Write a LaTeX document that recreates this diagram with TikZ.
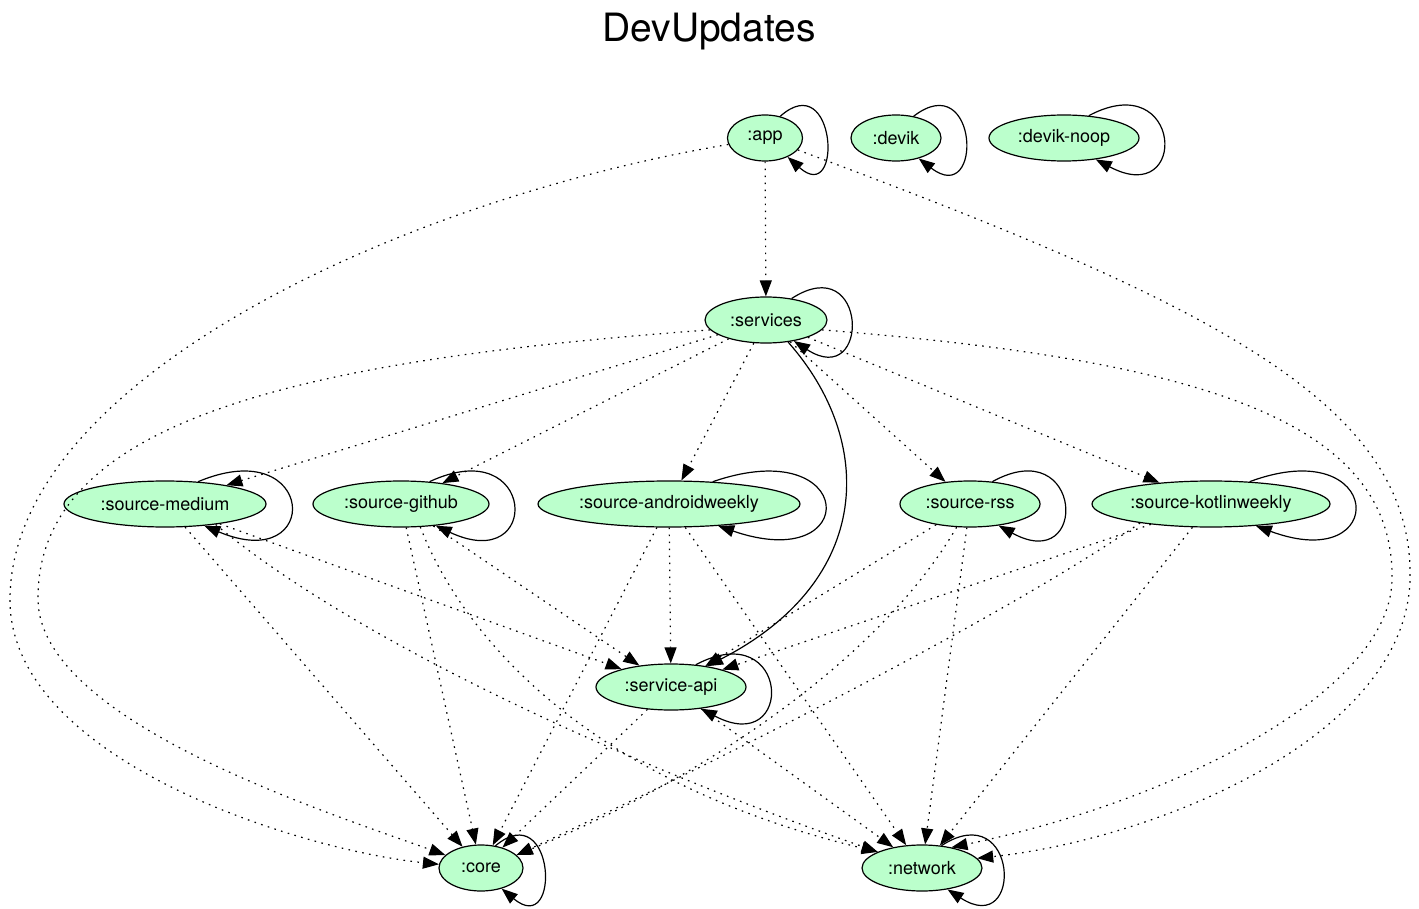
\documentclass[tikz,border=0pt]{standalone}
\usepackage{fontspec}
\setmainfont{TeX Gyre Heros}
\usepackage{tikz}
\usetikzlibrary{shapes.geometric, arrows.meta, calc}
\definecolor{modfill}{RGB}{187,255,204}

\begin{document}
\begin{tikzpicture}[x=1pt, y=-1pt,
        module/.style={ellipse, draw, line width=1.2pt, fill=modfill, minimum height=46pt, inner sep=0pt, font=\fontsize{18}{20}\selectfont},
        dep/.style={line width=1.2pt, dash pattern=on 1.6pt off 5.4pt, -{Triangle[length=16pt,width=12pt]}},
        solidep/.style={line width=1.2pt, -{Triangle[length=16pt,width=12pt]}}]
    \useasboundingbox (0,0) rectangle (1419,909);
    \node[font=\fontsize{39}{44}\selectfont] (title) at (709,32) {DevUpdates};

    \node[module, minimum width=75pt] (app) at (765,138) {:app};
    \node[module, minimum width=90pt] (devik) at (896,138) {:devik};
    \node[module, minimum width=150pt] (devik-noop) at (1064,138) {:devik-noop};
    \node[module, minimum width=122pt] (services) at (766,320) {:services};
    \node[module, minimum width=202pt] (source-medium) at (165,504) {:source-medium};
    \node[module, minimum width=176pt] (source-github) at (401,504) {:source-github};
    \node[module, minimum width=262pt] (source-androidweekly) at (669,504) {:source-androidweekly};
    \node[module, minimum width=140pt] (source-rss) at (970,504) {:source-rss};
    \node[module, minimum width=238pt] (source-kotlinweekly) at (1211,504) {:source-kotlinweekly};
    \node[module, minimum width=150pt] (service-api) at (671,687) {:service-api};
    \node[module, minimum width=84pt] (core) at (481,868) {:core};
    \node[module, minimum width=120pt] (network) at (922,868) {:network};

    \foreach \n/\s/\e/\p in {app/55/40/56,devik/51/42/65,devik-noop/42/34/94,services/40/37/77,source-medium/34/29/119,source-github/38/32/107,source-androidweekly/27/24/145,source-rss/45/37/91,source-kotlinweekly/30/26/135,service-api/42/36/95,core/57/45/60,network/49/40/77}
        \draw[solidep] (\n.\s) .. controls +(\p,-50) and +(\p,50) .. (\n.-\e);

    \draw[dep] (app) -- (services);
    \draw[dep] (app.190) .. controls (400,200) and (10,380) .. (10,600) .. controls (10,760) and (300,850) .. (core.175);
    \draw[dep] (app.-20) .. controls (1200,300) and (1415,400) .. (1410,580) .. controls (1405,740) and (1150,840) .. (network.10);
    \draw[dep] (services.190) .. controls (300,360) and (36,420) .. (38,600) .. controls (40,720) and (320,810) .. (core.160);
    \draw[dep] (services.-10) .. controls (1200,360) and (1395,420) .. (1392,580) .. controls (1390,690) and (1180,800) .. (network.35);
    \draw[solidep] (services.-45) .. controls (875,440) and (875,580) .. (service-api.30);
    \foreach \src in {source-medium,source-github,source-androidweekly,source-rss,source-kotlinweekly}{
        \draw[dep] (services) -- (\src);
        \draw[dep] (\src) -- (service-api);
    }
    \foreach \src in {source-medium,source-github,source-androidweekly}
        \draw[dep] (\src) -- (core);
    \foreach \src in {source-androidweekly,source-rss,source-kotlinweekly}
        \draw[dep] (\src) -- (network);
    \draw[dep] (source-medium.-22) .. controls (330,620) and (560,740) .. (network.160);
    \draw[dep] (source-github.-50) .. controls (460,630) and (580,780) .. (network.160);
    \draw[dep] (source-rss.-120) .. controls (880,660) and (700,780) .. (core.20);
    \draw[dep] (source-kotlinweekly.-165) .. controls (1000,620) and (700,770) .. (core.20);
    \draw[dep] (service-api) -- (core);
    \draw[dep] (service-api) -- (network);
\end{tikzpicture}
\end{document}
